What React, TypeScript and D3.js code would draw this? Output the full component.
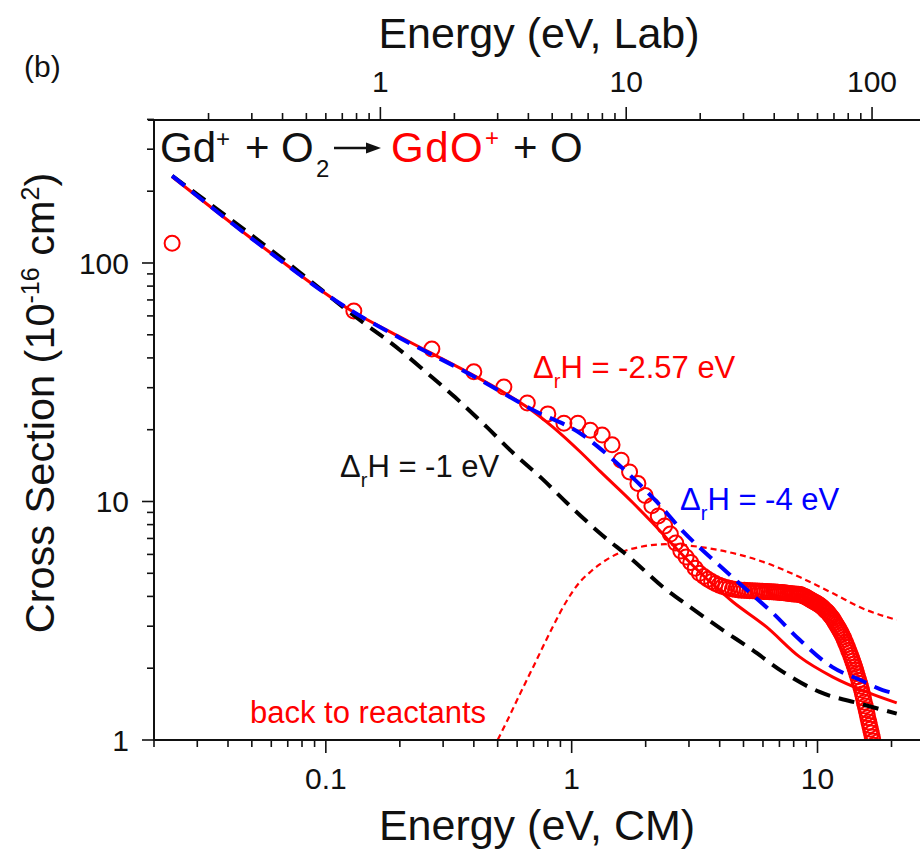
import React from "react";
import * as d3 from "d3";

// ---------- data ----------
// experimental cross section, energy in eV (CM) and sigma in 1e-16 cm^2
const expEnergy = [
  0.0237, 0.13, 0.27, 0.4, 0.53, 0.66, 0.8, 0.93, 1.06, 1.19, 1.33, 1.46, 1.59, 1.72, 1.86, 1.99,
  2.12, 2.25, 2.39, 2.52, 2.65, 2.78, 2.92, 3.05, 3.18, 3.31, 3.45, 3.58, 3.71, 3.84, 3.98, 4.11,
  4.24, 4.37, 4.51, 4.64, 4.77, 4.9, 5.04, 5.17, 5.3, 5.43, 5.57, 5.7, 5.83, 5.96, 6.1, 6.23,
  6.36, 6.49, 6.63, 6.76, 6.89, 7.02, 7.16, 7.29, 7.42, 7.55, 7.69, 7.82, 7.95, 8.08, 8.22, 8.35,
  8.48, 8.61, 8.75, 8.88, 9.01, 9.14, 9.28, 9.41, 9.54, 9.67, 9.81, 9.94, 10.07, 10.2, 10.34,
  10.47, 10.6, 10.73, 10.87, 11.0, 11.13, 11.26, 11.4, 11.53, 11.66, 11.79, 11.93, 12.06, 12.19,
  12.32, 12.46, 12.59, 12.72, 12.85, 12.99, 13.12, 13.25, 13.38, 13.52, 13.65, 13.78, 13.91,
  14.05, 14.18, 14.31, 14.44, 14.58, 14.71, 14.84, 14.97, 15.11, 15.24, 15.37, 15.5, 15.64,
  15.77, 15.9, 16.03, 16.17, 16.3, 16.43, 16.56, 16.7, 16.83, 16.96, 17.09, 17.23,
];
const expSigma = [
  121, 62.9, 43.6, 35.0, 30.2, 25.9, 23.3, 21.3, 21.3, 19.9, 19.0, 17.3, 14.9, 13.3, 11.9, 10.6,
  9.6, 8.7, 7.9, 7.3, 6.7, 6.2, 5.85, 5.55, 5.25, 5.0, 4.85, 4.72, 4.62, 4.53, 4.46, 4.4,
  4.36, 4.33, 4.3, 4.28, 4.26, 4.25, 4.24, 4.23, 4.22, 4.22, 4.21, 4.21, 4.2, 4.2, 4.19, 4.19,
  4.18, 4.18, 4.17, 4.17, 4.16, 4.15, 4.15, 4.14, 4.13, 4.12, 4.11, 4.1, 4.09, 4.09, 4.08, 4.08,
  4.07, 4.05, 4.02, 4.0, 3.97, 3.93, 3.89, 3.86, 3.83, 3.8, 3.77, 3.74, 3.71, 3.68, 3.64,
  3.6, 3.56, 3.51, 3.47, 3.43, 3.38, 3.33, 3.28, 3.23, 3.17, 3.11, 3.05, 2.99, 2.94,
  2.88, 2.82, 2.76, 2.7, 2.64, 2.57, 2.51, 2.45, 2.38, 2.32, 2.26, 2.2, 2.14,
  2.08, 2.02, 1.96, 1.9, 1.84, 1.78, 1.73, 1.68, 1.62, 1.56, 1.5, 1.44, 1.39,
  1.34, 1.29, 1.24, 1.19, 1.15, 1.11, 1.07, 1.03, 0.99, 0.95, 0.91, 0.87,
];

// model, Delta_rH = -2.57 eV (red solid)
const modelRedE = [0.0237, 0.0575, 0.1276, 0.2, 0.261, 0.397, 0.511, 0.658, 0.839, 1.08, 1.303, 1.77, 2.14, 2.44, 3.32, 4.52, 6.2, 8.46, 11.5, 15.8, 21.0];
const modelRedS = [230, 113.4, 62.9, 49.0, 42.5, 33.9, 29.3, 24.9, 20.5, 16.2, 13.4, 9.9, 8.1, 7.0, 5.05, 3.8, 2.98, 2.23, 1.84, 1.59, 1.43];

// model, Delta_rH = -4 eV (blue dashed)
const modelBlueE = [0.0237, 0.0575, 0.1276, 0.2, 0.397, 0.696, 1.11, 1.303, 1.726, 2.217, 2.844, 3.767, 4.99, 6.57, 8.46, 11.5, 15.0, 18.4, 20.5];
const modelBlueS = [232, 113.4, 62.9, 48.5, 33.6, 24.2, 19.0, 16.7, 12.9, 9.98, 7.47, 5.69, 4.39, 3.41, 2.63, 2.02, 1.78, 1.62, 1.57];

// model, Delta_rH = -1 eV (black dashed)
const modelBlackE = [0.0237, 0.0789, 0.126, 0.2, 0.258, 0.335, 0.452, 0.577, 0.756, 0.957, 1.3, 1.77, 2.35, 3.03, 4.12, 5.45, 7.23, 10.2, 14.9, 21.0];
const modelBlackS = [232, 90.8, 61.7, 43.2, 34.6, 27.4, 20.5, 16.0, 12.5, 9.86, 7.38, 5.69, 4.38, 3.61, 2.89, 2.38, 1.93, 1.59, 1.42, 1.29];

// back to reactants (red dotted)
const backE = [0.48, 0.55, 0.62, 0.7, 0.84, 0.95, 1.08, 1.2, 1.3, 1.57, 1.9, 2.4, 3.32, 4.52, 6.2, 8.46, 11.5, 15.8, 21.0];
const backS = [0.92, 1.22, 1.58, 2.04, 3.0, 3.8, 4.6, 5.1, 5.45, 6.1, 6.45, 6.62, 6.45, 6.08, 5.52, 4.82, 4.13, 3.51, 3.19];

// tick labels
const bottomMajor = [0.1, 1, 10];
const bottomLabels = ["0.1", "1", "10"];
const topMajor = [1, 10, 100];
const topLabels = ["1", "10", "100"];
const leftMajor = [1, 10, 100];
const leftLabels = ["1", "10", "100"];

const LAB_PER_CM = 6.0; // (m_Gd + m_O2) / m_O2
const FONT = "'Liberation Sans', Arial, Helvetica, sans-serif";

const RED = "#ff0000";
const BLUE = "#0000ff";
const INK = "#111111";

export default function App() {
  const W = 920;
  const H = 852;
  const x = d3.scaleLog().domain([0.02, 30]).range([154, 934.8]);
  const xLab = d3.scaleLog().domain([0.02 * LAB_PER_CM, 30 * LAB_PER_CM]).range([154, 934.8]);
  const y = d3.scaleLog().domain([1, 400]).range([740, 119.4]);

  const left = 154;
  const right = 935;
  const top = 120;
  const bottom = 740;

  const mk = (xs: number[], ys: number[]) =>
    d3
      .line<number>()
      .x((i) => x(xs[i]))
      .y((i) => y(ys[i]))
      .curve(d3.curveMonotoneX)(xs.map((_, i) => i)) || "";

  const isMajor = (v: number) => Math.abs(Math.log10(v) - Math.round(Math.log10(v))) < 1e-6;

  const bottomTicks = x.ticks(40).filter((v) => x(v) <= W + 1);
  const topTicks = xLab.ticks(40).filter((v) => xLab(v) <= W + 1);
  const leftTicks = y.ticks(40);

  return (
    <svg
      width={W}
      height={H}
      viewBox={`0 0 ${W} ${H}`}
      style={{ position: "absolute", left: 0, top: 0, background: "#fff" }}
      fontFamily={FONT}
    >
      <defs>
        <clipPath id="plotClip">
          <rect x={left} y={top} width={right - left} height={bottom - top} />
        </clipPath>
      </defs>
      <rect x={0} y={0} width={W} height={H} fill="#fff" />

      {/* data */}
      <g clipPath="url(#plotClip)">
        {expEnergy.map((e, i) => (
          <circle key={i} cx={x(e)} cy={y(expSigma[i])} r={7.5} fill="none" stroke={RED} strokeWidth={2} />
        ))}
        <path d={mk(backE, backS)} fill="none" stroke={RED} strokeWidth={2.2} strokeDasharray="6,4" />
        <path d={mk(modelBlackE, modelBlackS)} fill="none" stroke="#000" strokeWidth={4} strokeDasharray="16,9" />
        <path d={mk(modelRedE, modelRedS)} fill="none" stroke={RED} strokeWidth={3} />
        <path d={mk(modelBlueE, modelBlueS)} fill="none" stroke={BLUE} strokeWidth={4} strokeDasharray="16,9" />
      </g>

      {/* axes lines */}
      <g stroke={INK} strokeWidth={2} fill="none">
        <line x1={left} y1={top - 1} x2={left} y2={bottom + 1} />
        <line x1={left - 1} y1={bottom} x2={W} y2={bottom} />
        <line x1={left - 6} y1={top} x2={W} y2={top} />
      </g>

      {/* bottom ticks */}
      <g stroke={INK} strokeWidth={1.6}>
        {bottomTicks.map((v, i) => (
          <line key={i} x1={x(v)} x2={x(v)} y1={bottom} y2={bottom + (isMajor(v) ? 13 : 7)} />
        ))}
      </g>
      <g fontSize={30} fill={INK} textAnchor="middle">
        {bottomMajor.map((v, i) => (
          <text key={i} x={x(v)} y={789}>
            {bottomLabels[i]}
          </text>
        ))}
      </g>

      {/* top ticks */}
      <g stroke={INK} strokeWidth={1.6}>
        {topTicks.map((v, i) => (
          <line key={i} x1={xLab(v)} x2={xLab(v)} y1={top} y2={top - (isMajor(v) ? 13 : 7)} />
        ))}
      </g>
      <g fontSize={30} fill={INK} textAnchor="middle">
        {topMajor.map((v, i) => (
          <text key={i} x={xLab(v)} y={92}>
            {topLabels[i]}
          </text>
        ))}
      </g>

      {/* left ticks */}
      <g stroke={INK} strokeWidth={1.6}>
        {leftTicks.map((v, i) => (
          <line key={i} y1={y(v)} y2={y(v)} x1={left} x2={left - (isMajor(v) ? 12 : 7)} />
        ))}
      </g>
      <g fontSize={30} fill={INK} textAnchor="end">
        {leftMajor.map((v, i) => (
          <text key={i} x={129} y={y(v) + 11}>
            {leftLabels[i]}
          </text>
        ))}
      </g>

      {/* axis titles */}
      <text x={539} y={48} fontSize={43} fill={INK} textAnchor="middle">
        Energy (eV, Lab)
      </text>
      <text x={537} y={840} fontSize={43} fill={INK} textAnchor="middle">
        Energy (eV, CM)
      </text>
      <text transform="translate(54,403) rotate(-90)" fontSize={41.5} fill={INK} textAnchor="middle">
        Cross Section (10
        <tspan dy={-15} fontSize={25}>-16</tspan>
        <tspan dy={15}> cm</tspan>
        <tspan dy={-15} fontSize={25}>2</tspan>
        <tspan dy={15}>)</tspan>
      </text>

      {/* panel label */}
      <text x={24} y={77} fontSize={30} fill={INK}>
        (b)
      </text>

      {/* reaction */}
      <g fontSize={42} fill={INK}>
        <text x={160} y={162}>Gd</text>
        <text x={216} y={147} fontSize={24}>+</text>
        <text x={245} y={162}>+</text>
        <text x={281} y={162}>O</text>
        <text x={316} y={177} fontSize={24}>2</text>
        <line x1={334} y1={148} x2={368} y2={148} stroke={INK} strokeWidth={2.5} />
        <path d="M366,142.5 L381,148 L366,153.5 Z" fill={INK} />
        <text x={391} y={162} fill={RED} letterSpacing={1.5}>GdO</text>
        <text x={485} y={146} fontSize={24} fill={RED}>+</text>
        <text x={513} y={162}>+</text>
        <text x={550} y={162}>O</text>
      </g>

      {/* annotations */}
      <text x={533} y={378} fontSize={31} fill={RED}>
        Δ<tspan dy={10} fontSize={20}>r</tspan>
        <tspan dy={-10}>H = -2.57 eV</tspan>
      </text>
      <text x={340} y={477} fontSize={31} fill={INK}>
        Δ<tspan dy={10} fontSize={20}>r</tspan>
        <tspan dy={-10}>H = -1 eV</tspan>
      </text>
      <text x={680} y={510} fontSize={31} fill={BLUE}>
        Δ<tspan dy={10} fontSize={20}>r</tspan>
        <tspan dy={-10}>H = -4 eV</tspan>
      </text>
      <text x={250} y={723} fontSize={31} fill={RED}>
        back to reactants
      </text>
    </svg>
  );
}
